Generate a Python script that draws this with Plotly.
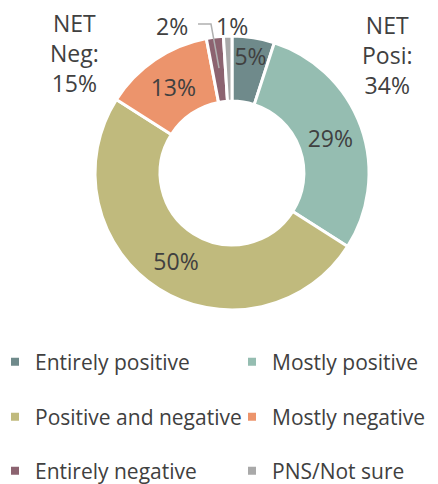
import plotly.graph_objects as go

categories = ["Entirely positive", "Mostly positive", "Positive and negative",
              "Mostly negative", "Entirely negative", "PNS/Not sure"]
values = [5, 29, 50, 13, 2, 1]
colors = ["#6F8A8B", "#95BDB1", "#C0BA7D", "#EC946C", "#8C6370", "#A9A9A9"]

# page body has an 8px margin, so the figure is drawn 8px in from the window corner
OFF = 8
W, H = 438 - OFF, 484 - OFF
FONT = "Open Sans"
TXT = "#404040"


def fx(X):
    return (X - OFF) / W


def fy(Y):
    return 1 - (Y - OFF) / H


net_pos = values[0] + values[1]
net_neg = values[3] + values[4]

inside_text = [f"{v}%" if v >= 5 else "" for v in values]

fig = go.Figure()
fig.add_trace(go.Pie(
    labels=categories, values=values, sort=False, direction="clockwise",
    rotation=0, hole=0.525,
    marker=dict(colors=colors, line=dict(color="white", width=3)),
    text=inside_text, textinfo="text", textposition="inside",
    insidetextorientation="horizontal",
    textfont=dict(family=FONT, size=23, color=TXT),
    domain=dict(x=[fx(232 - 137), fx(232 + 137)], y=[fy(310), fy(36)]),
    showlegend=False, hoverinfo="label+percent",
))

# one legend per entry, laid out 2 columns x 3 rows
legend_names = ["legend", "legend2", "legend3", "legend4", "legend5", "legend6"]
for i, (c, col) in enumerate(zip(categories, colors)):
    fig.add_trace(go.Scatter(
        x=[None], y=[None], mode="markers", name=c,
        marker=dict(symbol="square", size=8, color=col),
        legend=legend_names[i], showlegend=True,
    ))

col_x = [fx(-5), fx(232)]
row_y = [fy(362), fy(417), fy(471)]
leg_common = dict(orientation="h", xanchor="left", yanchor="middle",
                  font=dict(family=FONT, size=21, color=TXT),
                  bgcolor="rgba(0,0,0,0)", itemclick=False, itemdoubleclick=False)
legends = {}
for i, name in enumerate(legend_names):
    legends[name] = dict(**leg_common, x=col_x[i % 2], y=row_y[i // 2])

annotations = [
    dict(text=f"NET<br>Neg:<br>{net_neg}%", x=fx(74), y=fy(53), yanchor="middle"),
    dict(text=f"NET<br>Posi:<br>{net_pos}%", x=fx(387), y=fy(55), yanchor="middle"),
    dict(text=f"{values[4]}%", x=fx(172), y=1, yanchor="top"),
    dict(text=f"{values[5]}%", x=fx(232), y=1, yanchor="top"),
]
for a in annotations:
    a.update(xref="paper", yref="paper", showarrow=False, xanchor="center",
             font=dict(family=FONT, size=23, color=TXT))


def px(X, Y):
    return f"{fx(X):.4f},{fy(Y):.4f}"


fig.update_layout(
    width=W, height=H, margin=dict(l=0, r=0, t=0, b=0, autoexpand=False),
    paper_bgcolor="white", plot_bgcolor="white",
    xaxis=dict(visible=False), yaxis=dict(visible=False),
    uniformtext=dict(minsize=23, mode="show"),
    annotations=annotations,
    shapes=[dict(type="path", xref="paper", yref="paper",
                 path=f"M{px(198, 24)} L{px(211, 24)} L{px(219, 68)}",
                 line=dict(color="#B0B0B0", width=1.5))],
    **legends,
)

fig.write_html("out.html")
